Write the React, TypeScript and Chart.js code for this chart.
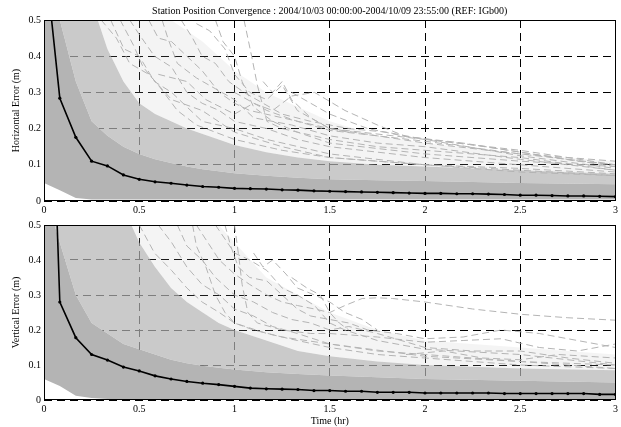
import React, { useEffect, useRef } from 'react';
import { Chart, registerables } from 'chart.js';
Chart.register(...registerables);

const TITLE = 'Station Position Convergence : 2004/10/03 00:00:00-2004/10/09 23:55:00 (REF: IGb00)';
const X_TITLE = 'Time (hr)';
const H_TITLE = 'Horizontal Error (m)';
const V_TITLE = 'Vertical Error (m)';
const X_TICKS = ['0', '0.5', '1', '1.5', '2', '2.5', '3'];
const Y_TICKS = ['0', '0.1', '0.2', '0.3', '0.4', '0.5'];

// 5-minute epochs (hours)
const EPOCHS = [0, 0.083, 0.167, 0.25, 0.333, 0.417, 0.5, 0.583, 0.667, 0.75, 0.833, 0.917, 1, 1.083, 1.167, 1.25, 1.333, 1.417, 1.5, 1.583, 1.667, 1.75, 1.833, 1.917, 2, 2.083, 2.167, 2.25, 2.333, 2.417, 2.5, 2.583, 2.667, 2.75, 2.833, 2.917, 3];

// median convergence curves
const H_MEDIAN = [0.70, 0.284, 0.176, 0.11, 0.097, 0.072, 0.06, 0.053, 0.049, 0.044, 0.040, 0.038, 0.035, 0.034, 0.033, 0.031, 0.030, 0.028, 0.027, 0.026, 0.025, 0.024, 0.023, 0.022, 0.021, 0.021, 0.020, 0.020, 0.019, 0.018, 0.016, 0.016, 0.015, 0.014, 0.014, 0.013, 0.012];
const V_MEDIAN = [1.6, 0.28, 0.178, 0.13, 0.114, 0.094, 0.083, 0.069, 0.06, 0.053, 0.048, 0.044, 0.039, 0.034, 0.032, 0.031, 0.030, 0.027, 0.027, 0.025, 0.025, 0.022, 0.022, 0.022, 0.020, 0.020, 0.020, 0.020, 0.020, 0.0185, 0.0185, 0.0185, 0.0185, 0.0185, 0.0185, 0.016, 0.016];

// envelopes of the mass of individual station curves
const ENV_T = [0, 0.083, 0.167, 0.25, 0.333, 0.417, 0.5, 0.583, 0.667, 0.75, 0.833, 0.917, 1, 1.167, 1.333, 1.5, 1.75, 2, 2.5, 3];
const H_LOW = [0.05, 0.03, 0.008, 0.004, 0.004, 0.004, 0.004, 0.004, 0.004, 0.004, 0.004, 0.004, 0.004, 0.004, 0.004, 0.004, 0.004, 0.004, 0.004, 0.004];
const H_CORE = [0.6, 0.5, 0.33, 0.22, 0.18, 0.15, 0.13, 0.115, 0.105, 0.095, 0.088, 0.082, 0.077, 0.07, 0.064, 0.06, 0.057, 0.055, 0.05, 0.046];
const H_MID = [0.6, 0.6, 0.6, 0.55, 0.42, 0.33, 0.27, 0.24, 0.22, 0.2, 0.185, 0.17, 0.155, 0.135, 0.12, 0.11, 0.1, 0.095, 0.085, 0.075];
const H_SPARSE = [0.6, 0.6, 0.6, 0.6, 0.6, 0.6, 0.6, 0.55, 0.5, 0.47, 0.44, 0.4, 0.36, 0.3, 0.26, 0.22, 0.18, 0.16, 0.13, 0.11];

const V_LOW = [0.06, 0.04, 0.012, 0.006, 0.003, 0.003, 0.003, 0.003, 0.003, 0.003, 0.003, 0.003, 0.003, 0.003, 0.003, 0.003, 0.003, 0.003, 0.003, 0.003];
const V_CORE = [0.6, 0.45, 0.3, 0.22, 0.19, 0.16, 0.145, 0.13, 0.115, 0.105, 0.098, 0.092, 0.087, 0.079, 0.074, 0.07, 0.065, 0.06, 0.055, 0.05];
const V_MID = [0.6, 0.6, 0.6, 0.6, 0.6, 0.55, 0.45, 0.38, 0.32, 0.28, 0.25, 0.22, 0.2, 0.17, 0.14, 0.125, 0.11, 0.1, 0.09, 0.085];
const V_SPARSE = [0.6, 0.6, 0.6, 0.6, 0.6, 0.6, 0.6, 0.6, 0.6, 0.58, 0.55, 0.5, 0.45, 0.35, 0.3, 0.25, 0.2, 0.17, 0.15, 0.13];

// individual outlying station curves [time, error]
const H_OUTLIERS = [
  [[0.35, 0.5], [0.42, 0.42], [0.5, 0.4], [0.58, 0.33], [0.67, 0.3], [0.75, 0.26], [0.83, 0.22], [1.0, 0.2], [1.17, 0.17], [1.5, 0.13], [2.0, 0.1], [2.5, 0.08], [3, 0.07]],
  [[0.55, 0.5], [0.6, 0.45], [0.67, 0.44], [0.75, 0.4], [0.83, 0.36], [0.92, 0.3], [1.0, 0.27], [1.08, 0.25], [1.25, 0.23], [1.5, 0.2], [1.75, 0.18], [2.0, 0.16], [2.5, 0.13], [3, 0.1]],
  [[0.8, 0.49], [0.87, 0.47], [0.95, 0.42], [1.0, 0.35], [1.08, 0.3], [1.17, 0.28], [1.25, 0.32], [1.33, 0.25], [1.5, 0.2], [2.0, 0.17], [2.5, 0.125], [3, 0.09]],
  [[1.05, 0.5], [1.09, 0.4], [1.12, 0.32], [1.17, 0.22], [1.25, 0.2], [1.5, 0.17], [1.75, 0.15], [2, 0.14], [2.5, 0.12], [3, 0.085]],
  [[0.6, 0.35], [0.75, 0.33], [0.85, 0.28], [1, 0.24], [1.1, 0.27], [1.2, 0.25], [1.3, 0.29], [1.42, 0.3], [1.58, 0.25], [1.75, 0.21], [1.9, 0.178], [2.25, 0.155], [2.5, 0.135], [3, 0.095]],
  [[0.45, 0.5], [0.5, 0.46], [0.58, 0.4], [0.67, 0.37], [0.75, 0.3], [0.83, 0.27], [0.92, 0.25], [1, 0.22], [1.17, 0.2], [1.33, 0.17], [1.5, 0.15], [2, 0.12], [2.5, 0.1], [3, 0.08]],
  [[0.3, 0.5], [0.38, 0.45], [0.45, 0.38], [0.55, 0.35], [0.67, 0.28], [0.83, 0.25], [1, 0.19], [1.25, 0.15], [1.5, 0.12], [2, 0.1], [3, 0.07]],
  [[0.9, 0.5], [0.94, 0.44], [1.0, 0.4], [1.04, 0.33], [1.1, 0.26], [1.2, 0.22], [1.33, 0.19], [1.5, 0.16], [2, 0.13], [2.5, 0.11], [3, 0.095]],
  [[0.72, 0.5], [0.78, 0.45], [0.83, 0.4], [0.9, 0.38], [0.97, 0.33], [1.05, 0.3], [1.15, 0.27], [1.25, 0.24], [1.4, 0.22], [1.6, 0.2], [1.8, 0.19], [2.0, 0.17], [2.5, 0.14], [3, 0.1]],
  [[1.15, 0.33], [1.2, 0.3], [1.25, 0.33], [1.3, 0.28], [1.4, 0.23], [1.5, 0.2], [1.6, 0.19]],
  [[0.62, 0.5], [0.65, 0.45], [0.7, 0.38], [0.8, 0.34], [0.9, 0.31], [1, 0.28], [1.1, 0.23], [1.3, 0.21], [1.5, 0.18], [1.75, 0.16], [2, 0.15], [2.5, 0.115], [3, 0.085]],
  [[0.4, 0.5], [0.47, 0.43], [0.52, 0.37], [0.6, 0.32], [0.7, 0.25], [0.8, 0.21], [0.9, 0.19], [1, 0.17], [1.25, 0.14], [1.5, 0.12], [2, 0.1], [2.5, 0.09], [3, 0.075]],
  [[1.3, 0.3], [1.5, 0.24], [1.7, 0.2], [1.9, 0.178], [2.2, 0.16], [2.5, 0.135], [2.8, 0.11], [3, 0.1]],
  [[1.0, 0.3], [1.17, 0.25], [1.33, 0.22], [1.5, 0.195], [1.75, 0.18], [2.0, 0.165], [2.5, 0.13], [3, 0.11]],
];

const V_OUTLIERS = [
  [[0.8, 0.5], [0.86, 0.45], [0.92, 0.4], [1, 0.36], [1.08, 0.33], [1.17, 0.3], [1.25, 0.28], [1.33, 0.27], [1.42, 0.26], [1.5, 0.25], [1.58, 0.27], [1.67, 0.29], [1.75, 0.292], [1.83, 0.29], [2, 0.28], [2.25, 0.26], [2.5, 0.245], [2.75, 0.235], [3, 0.228]],
  [[1.0, 0.5], [1.02, 0.42], [1.04, 0.33], [1.07, 0.25], [1.12, 0.22], [1.25, 0.2], [1.4, 0.19], [1.5, 0.19], [1.75, 0.18], [2, 0.165], [2.2, 0.17], [2.4, 0.175], [2.6, 0.15], [2.8, 0.14], [3, 0.16]],
  [[0.9, 0.5], [0.95, 0.46], [1.0, 0.42], [1.08, 0.4], [1.17, 0.37], [1.25, 0.32], [1.33, 0.3], [1.42, 0.27], [1.5, 0.22], [1.58, 0.2], [1.75, 0.17], [2, 0.145], [2.5, 0.13], [3, 0.1]],
  [[0.7, 0.5], [0.75, 0.44], [0.83, 0.4], [0.9, 0.35], [1, 0.3], [1.1, 0.28], [1.2, 0.25], [1.3, 0.23], [1.4, 0.22], [1.5, 0.2], [1.6, 0.21], [1.75, 0.19], [2, 0.15], [2.25, 0.14], [2.5, 0.14], [2.75, 0.12], [3, 0.105]],
  [[0.6, 0.5], [0.67, 0.45], [0.75, 0.38], [0.83, 0.33], [0.92, 0.3], [1, 0.26], [1.1, 0.24], [1.2, 0.21], [1.33, 0.19], [1.5, 0.16], [1.75, 0.14], [2, 0.13], [2.5, 0.11], [3, 0.09]],
  [[0.95, 0.5], [0.98, 0.44], [1.02, 0.38], [1.08, 0.35], [1.17, 0.34], [1.25, 0.3], [1.33, 0.26], [1.4, 0.24], [1.5, 0.23], [1.6, 0.22], [1.7, 0.2], [1.85, 0.19], [2, 0.175], [2.2, 0.18], [2.4, 0.2], [2.6, 0.19], [2.8, 0.17], [3, 0.15]],
  [[0.5, 0.5], [0.58, 0.42], [0.67, 0.37], [0.75, 0.32], [0.83, 0.28], [0.92, 0.25], [1, 0.22], [1.17, 0.19], [1.33, 0.17], [1.5, 0.15], [1.75, 0.13], [2, 0.12], [2.5, 0.1], [3, 0.09]],
  [[1.1, 0.42], [1.15, 0.38], [1.2, 0.4], [1.27, 0.36], [1.33, 0.32], [1.42, 0.3], [1.5, 0.28], [1.58, 0.25], [1.67, 0.23], [1.75, 0.2]],
  [[1.3, 0.35], [1.38, 0.32], [1.45, 0.3], [1.5, 0.25], [1.55, 0.22], [1.6, 0.2]],
  [[0.78, 0.5], [0.8, 0.44], [0.85, 0.38], [0.9, 0.3], [0.95, 0.25], [1, 0.22], [1.1, 0.2], [1.25, 0.18], [1.5, 0.16], [2, 0.125], [2.5, 0.11], [3, 0.1]],
  [[1.9, 0.13], [2.1, 0.14], [2.3, 0.12], [2.5, 0.115], [2.7, 0.13], [3, 0.12]],
];

const GRAY = 'rgb(180,180,180)';
const FONT_FAMILY = '"Liberation Serif", "Times New Roman", serif';
const FONT = { family: FONT_FAMILY, size: 10, weight: 'normal' as const };

const framePlugin = {
  id: 'frame',
  afterDatasetsDraw(chart: any) {
    const { ctx, chartArea } = chart;
    const { left, top, right, bottom } = chartArea;
    ctx.save();
    ctx.setLineDash([]);
    ctx.strokeStyle = '#000';
    ctx.lineWidth = 1;
    ctx.strokeRect(Math.round(left) + 0.5, Math.round(top) + 0.5, Math.round(right - left) - 1, Math.round(bottom - top) - 1);
    ctx.restore();
  },
};

function zip(xs: number[], ys: number[]) {
  return xs.map((x, i) => ({ x, y: ys[i] }));
}

function buildConfig(p: {
  low: number[]; core: number[]; mid: number[]; sparse: number[];
  outliers: number[][][]; median: number[]; yTitle: string;
  showTitle: boolean; showXTitle: boolean; padTop: number; xHeight: number;
}): any {
  const envBase = { pointRadius: 0, borderWidth: 0, borderColor: 'rgba(0,0,0,0)', tension: 0 };
  const datasets: any[] = [
    { ...envBase, data: zip(ENV_T, p.low), fill: false, order: 10 },
    { ...envBase, data: zip(ENV_T, p.core), fill: 0, backgroundColor: GRAY, order: 9 },
    { ...envBase, data: zip(ENV_T, p.mid), fill: 1, backgroundColor: 'rgba(180,180,180,0.7)', order: 8 },
    { ...envBase, data: zip(ENV_T, p.sparse), fill: 2, backgroundColor: 'rgba(180,180,180,0.15)', order: 7 },
  ];
  p.outliers.forEach((line) => {
    datasets.push({
      data: line.map(([x, y]) => ({ x, y })),
      borderColor: GRAY, borderWidth: 1, borderDash: [7, 4], pointRadius: 0, fill: false, tension: 0, order: 2,
    });
  });
  datasets.push({
    data: zip(EPOCHS, p.median),
    borderColor: '#000', borderWidth: 1.6, pointRadius: 1.6, pointBackgroundColor: '#000',
    pointBorderWidth: 0, fill: false, tension: 0, order: 0,
  });
  return {
    type: 'line',
    data: { datasets },
    plugins: [framePlugin],
    options: {
      animation: false,
      responsive: false,
      events: [],
      layout: { padding: { left: 0, right: 5, top: p.padTop, bottom: 0 } },
      plugins: {
        legend: { display: false },
        tooltip: { enabled: false },
        title: {
          display: p.showTitle, text: TITLE, font: FONT, color: '#000',
          padding: { top: 5, bottom: 3 }, fullSize: false,
        },
      },
      scales: {
        x: {
          type: 'linear', min: 0, max: 3,
          ticks: { stepSize: 0.5, autoSkip: false, maxRotation: 0, padding: 3, font: FONT, color: '#000',
            callback: (_v: any, i: number) => X_TICKS[i] },
          grid: { color: '#000', lineWidth: 1, drawTicks: false },
          border: { display: false, dash: [8, 5] },
          title: { display: p.showXTitle, text: X_TITLE, font: FONT, color: '#000', padding: { top: 0, bottom: 0 } },
          afterFit: (s: any) => { s.height = p.xHeight; },
        },
        y: {
          type: 'linear', min: 0, max: 0.5,
          ticks: { stepSize: 0.1, padding: 3, font: FONT, color: '#000',
            callback: (_v: any, i: number) => Y_TICKS[i] },
          grid: { color: '#000', lineWidth: 1, drawTicks: false },
          border: { display: false, dash: [8, 5] },
          title: { display: true, text: p.yTitle, font: FONT, color: '#000', padding: { top: 10, bottom: 0 } },
          afterFit: (s: any) => { s.width = 44; },
        },
      },
    },
  };
}

function Panel({ config, top, height }: { config: any; top: number; height: number }) {
  const ref = useRef<HTMLCanvasElement | null>(null);
  useEffect(() => {
    if (!ref.current) return;
    const chart = new Chart(ref.current, config);
    return () => chart.destroy();
  }, [config]);
  return (
    <canvas
      ref={ref}
      width={621}
      height={height}
      style={{ position: 'absolute', left: 0, top, width: 621, height }}
    />
  );
}

const TOP_CONFIG = buildConfig({
  low: H_LOW, core: H_CORE, mid: H_MID, sparse: H_SPARSE, outliers: H_OUTLIERS, median: H_MEDIAN,
  yTitle: H_TITLE, showTitle: true, showXTitle: false, padTop: 0, xHeight: 15,
});
const BOTTOM_CONFIG = buildConfig({
  low: V_LOW, core: V_CORE, mid: V_MID, sparse: V_SPARSE, outliers: V_OUTLIERS, median: V_MEDIAN,
  yTitle: V_TITLE, showTitle: false, showXTitle: true, padTop: 4, xHeight: 27,
});

export default function App() {
  return (
    <div style={{ position: 'absolute', left: 0, top: 0, width: 621, height: 427, background: '#fff', overflow: 'hidden' }}>
      <Panel config={TOP_CONFIG} top={0} height={216} />
      <Panel config={BOTTOM_CONFIG} top={216} height={211} />
    </div>
  );
}
